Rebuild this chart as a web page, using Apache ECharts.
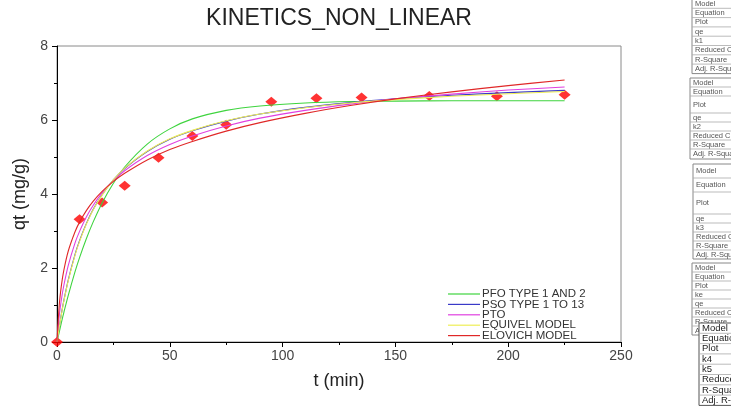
<!DOCTYPE html>
<html>
<head>
<meta charset="utf-8">
<script src="https://cdn.jsdelivr.net/npm/echarts@6/dist/echarts.min.js"></script>
<style>
  html, body { margin: 0; padding: 0; background: #fff; }
  #main { width: 731px; height: 410px; }
</style>
</head>
<body>
<div id="main"></div>
<script>
// experimental points
const tExp = [0, 10, 20, 30, 45, 60, 75, 95, 115, 135, 165, 195, 225];
const qExp = [0, 3.32, 3.77, 4.22, 4.98, 5.57, 5.87, 6.49, 6.59, 6.61, 6.65, 6.64, 6.68];

// fitted curves at these times
const tFit = [0, 1, 2, 3, 5, 8, 10, 13, 16, 20, 25, 30, 40, 50, 60, 75, 90, 110, 130, 150, 175, 200, 225];
const qPFO = [0, 0.27, 0.54, 0.79, 1.26, 1.90, 2.28, 2.79, 3.24, 3.76, 4.29, 4.73, 5.35, 5.76, 6.03, 6.26, 6.38, 6.46, 6.50, 6.51, 6.52, 6.52, 6.52];
const qPSO = [0, 0.41, 0.78, 1.11, 1.68, 2.37, 2.74, 3.20, 3.58, 3.98, 4.38, 4.69, 5.15, 5.48, 5.71, 5.97, 6.16, 6.34, 6.47, 6.57, 6.67, 6.74, 6.80];
const qPTO = [0, 0.71, 1.17, 1.52, 2.07, 2.68, 2.99, 3.38, 3.69, 4.03, 4.36, 4.63, 5.04, 5.34, 5.57, 5.84, 6.05, 6.26, 6.43, 6.57, 6.70, 6.81, 6.89];
const qEQV = [0, 0.40, 0.76, 1.09, 1.66, 2.35, 2.72, 3.18, 3.57, 3.97, 4.38, 4.70, 5.16, 5.49, 5.72, 5.98, 6.16, 6.33, 6.46, 6.55, 6.64, 6.71, 6.77];
const qELO = [0, 1.00, 1.55, 1.93, 2.46, 2.98, 3.24, 3.55, 3.80, 4.07, 4.34, 4.56, 4.92, 5.20, 5.42, 5.70, 5.93, 6.18, 6.39, 6.57, 6.76, 6.93, 7.08];

const seriesNames = ['PFO TYPE 1 AND 2', 'PSO TYPE 1 TO 13', 'PTO', 'EQUIVEL MODEL', 'ELOVICH MODEL'];
const seriesColors = ['#3fd43f', '#3a3ac8', '#e040e0', '#eeee55', '#e02828'];
const seriesValues = [qPFO, qPSO, qPTO, qEQV, qELO];

// clipped result tables on the right
const table1 = ['Model', 'Equation', 'Plot', 'qe', 'k1', 'Reduced Chi-Sqr', 'R-Square', 'Adj. R-Square'];
const table2 = ['Model', 'Equation', 'Plot', 'qe', 'k2', 'Reduced Chi-Sqr', 'R-Square', 'Adj. R-Square'];
const table3 = ['Model', 'Equation', 'Plot', 'qe', 'k3', 'Reduced Chi-Sqr', 'R-Square', 'Adj. R-Square'];
const table4 = ['Model', 'Equation', 'Plot', 'ke', 'qe', 'Reduced Chi-Sqr', 'R-Square', 'Adj. R-Square'];
const table5 = ['Model', 'Equation', 'Plot', 'k4', 'k5', 'Reduced Chi-Sqr', 'R-Square', 'Adj. R-Square'];

const FONT = 'Liberation Sans, Arial, sans-serif';

function pairs(xs, ys) {
    let res = [];
    for (let i = 0; i < xs.length; i++) {
        res.push([xs[i], ys[i]]);
    }
    return res;
}

function makeTable(labels, x, y, heights, fontSize, color, border) {
    let children = [];
    let total = 0;
    for (const h of heights) total += h;
    children.push({
        type: 'rect', shape: {x: x, y: y, width: 60, height: total},
        style: {fill: '#fff', stroke: border, lineWidth: 1}
    });
    let cy = y;
    for (let i = 0; i < labels.length; i++) {
        if (i > 0) {
            children.push({
                type: 'line', shape: {x1: x, y1: cy, x2: x + 60, y2: cy},
                style: {stroke: '#aaa', lineWidth: 0.8}
            });
        }
        children.push({
            type: 'text', x: x + 3, y: cy + heights[i] / 2,
            style: {text: labels[i], fill: color, font: fontSize + 'px ' + FONT, textVerticalAlign: 'middle'}
        });
        cy += heights[i];
    }
    return {type: 'group', children: children};
}

let chart = echarts.init(document.getElementById('main'));

let series = [{
    type: 'scatter', name: 'exp', data: pairs(tExp, qExp), symbol: 'diamond',
    symbolSize: [12, 10], itemStyle: {color: '#ff0000'}, z: 1
}];
for (let i = 0; i < seriesNames.length; i++) {
    series.push({
        type: 'line', name: seriesNames[i], data: pairs(tFit, seriesValues[i]),
        symbol: 'none', smooth: 0.3, lineStyle: {color: seriesColors[i], width: 1.1},
        itemStyle: {color: seriesColors[i]}, z: 2
    });
}

let option = {
    animation: false,
    backgroundColor: '#fff',
    textStyle: {fontFamily: FONT},
    grid: {left: 57, top: 46, right: 110, bottom: 68, show: true, borderColor: '#8a8a8a', borderWidth: 1},
    legend: {
        data: seriesNames, orient: 'vertical', left: 448, top: 288, padding: 0,
        icon: 'rect', itemWidth: 32, itemHeight: 1.2, itemGap: -1.6, selectedMode: false,
        textStyle: {fontSize: 11.5, color: '#333', fontFamily: FONT, padding: [0, 0, 0, -3]}
    },
    xAxis: {
        type: 'value', min: 0, max: 250, interval: 50,
        name: 't (min)', nameLocation: 'middle', nameGap: 30,
        nameTextStyle: {fontSize: 18, color: '#222', fontFamily: FONT},
        axisLine: {lineStyle: {color: '#000', width: 1}},
        axisTick: {length: 5, lineStyle: {color: '#000'}},
        minorTick: {show: true, splitNumber: 2, length: 3, lineStyle: {color: '#000'}},
        axisLabel: {fontSize: 14, color: '#444', margin: 7},
        splitLine: {show: false}
    },
    yAxis: {
        type: 'value', min: 0, max: 8, interval: 2,
        name: 'qt (mg/g)', nameLocation: 'middle', nameGap: 26,
        nameTextStyle: {fontSize: 18, color: '#222', fontFamily: FONT},
        axisLine: {lineStyle: {color: '#000', width: 1}},
        axisTick: {length: 5, lineStyle: {color: '#000'}},
        minorTick: {show: true, splitNumber: 2, length: 3, lineStyle: {color: '#000'}},
        axisLabel: {fontSize: 14, color: '#444', margin: 9},
        splitLine: {show: false}
    },
    graphic: [
        {
            type: 'text', x: 339, y: 19,
            style: {text: 'KINETICS_NON_LINEAR', fill: '#222', font: '23px ' + FONT, textAlign: 'center', textVerticalAlign: 'middle'}
        },
        makeTable(table1, 692, -1, [9.3, 9.3, 9.3, 9.3, 9.3, 9.3, 9.3, 9.5], 7.5, '#555', '#888'),
        makeTable(table2, 690, 78, [9, 9, 17, 9, 9, 9, 9, 10], 7.5, '#555', '#888'),
        makeTable(table3, 693, 164, [14, 14, 22, 9, 9, 9, 9, 9], 7.5, '#555', '#888'),
        makeTable(table4, 692, 263, [9, 9, 9, 9, 9, 9, 9, 9], 7.5, '#555', '#888'),
        makeTable(table5, 699, 323, [10.3, 10.3, 10.3, 10.3, 10.3, 10.3, 10.3, 10.3], 9.5, '#222', '#555')
    ],
    series: series
};

chart.setOption(option);
</script>
</body>
</html>
